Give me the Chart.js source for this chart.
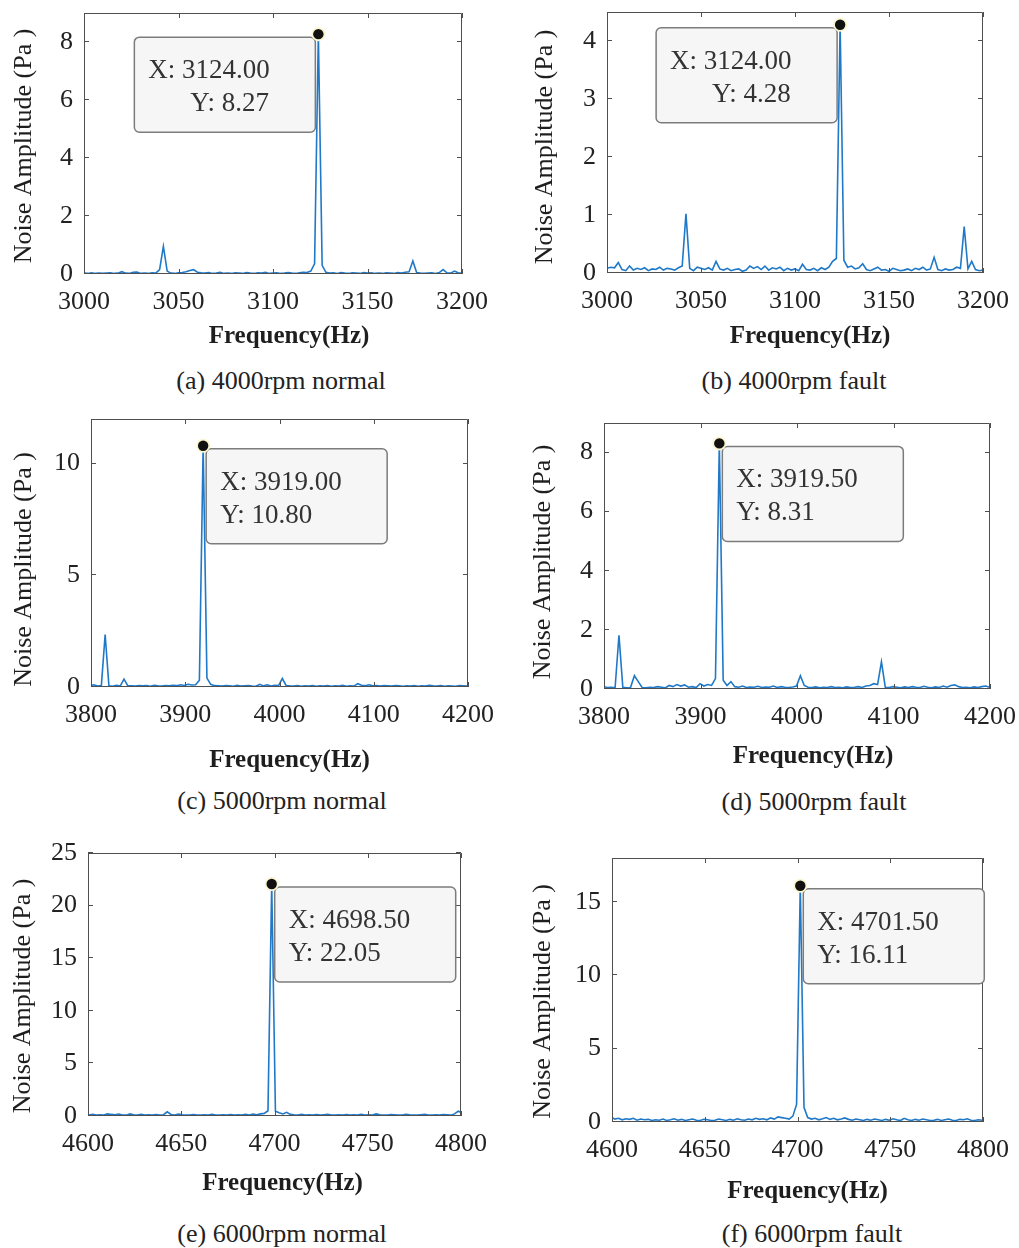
<!DOCTYPE html>
<html>
<head>
<meta charset="utf-8">
<title>Noise spectra</title>
<script src="https://cdn.jsdelivr.net/npm/chart.js@4.4.1/dist/chart.umd.min.js"></script>
<style>
  html, body { margin: 0; padding: 0; background: #ffffff; }
  body { width: 1019px; height: 1248px; position: relative; overflow: hidden;
         font-family: "Liberation Serif", "Times New Roman", serif; }
  .pane { position: absolute; display: block; }
  .cap { position: absolute; width: 400px; text-align: center; font-size: 26px;
         line-height: 26px; color: #222; white-space: nowrap; }
</style>
</head>
<body>
<script>
// ---- text ----
const captionA = '(a) 4000rpm normal';
const captionB = '(b) 4000rpm fault';
const captionC = '(c) 5000rpm normal';
const captionD = '(d) 5000rpm fault';
const captionE = '(e) 6000rpm normal';
const captionF = '(f) 6000rpm fault';
const xAxisTitle = 'Frequency(Hz)';
const yAxisTitle = 'Noise Amplitude (Pa )';

// ---- tick labels ----
const freqTicks4000 = [3000, 3050, 3100, 3150, 3200];
const freqTicks5000 = [3800, 3900, 4000, 4100, 4200];
const freqTicks6000 = [4600, 4650, 4700, 4750, 4800];
const ampTicksA = [0, 2, 4, 6, 8];
const ampTicksB = [0, 1, 2, 3, 4];
const ampTicksC = [0, 5, 10];
const ampTicksD = [0, 2, 4, 6, 8];
const ampTicksE = [0, 5, 10, 15, 20, 25];
const ampTicksF = [0, 5, 10, 15];

// ---- spectrum bins: first bin frequency and bin spacing (Hz) ----
const binStartA = 3000,   binStepA = 2;
const binStartB = 3000,   binStepB = 2;
const binStartC = 3799,   binStepC = 4;
const binStartD = 3799.5, binStepD = 4;
const binStartE = 4600.5, binStepE = 2;
const binStartF = 4599.5, binStepF = 2;

// ---- noise amplitude per bin (Pa) ----
const ampA = [
  0.03,0.02,0.04,0.02,0.03,0.02,0.03,0.04,0.02,0.03,
  0.08,0.03,0.02,0.06,0.07,0.02,0.03,0.02,0.04,0.03,
  0.15,0.95,0.10,0.03,0.02,0.04,0.05,0.08,0.12,0.15,
  0.06,0.04,0.03,0.05,0.02,0.03,0.06,0.02,0.03,0.02,
  0.04,0.03,0.02,0.05,0.03,0.02,0.04,0.03,0.06,0.02,
  0.03,0.04,0.02,0.03,0.05,0.03,0.02,0.04,0.06,0.05,
  0.10,0.35,8.27,0.30,0.06,0.03,0.04,0.02,0.05,0.03,
  0.02,0.04,0.03,0.02,0.05,0.03,0.04,0.02,0.03,0.02,
  0.04,0.03,0.02,0.05,0.03,0.06,0.08,0.45,0.05,0.03,
  0.02,0.03,0.04,0.02,0.05,0.15,0.04,0.03,0.10,0.04,
  0.03
];
const ampB = [
  0.08,0.10,0.09,0.18,0.06,0.04,0.12,0.05,0.08,0.06,
  0.09,0.04,0.07,0.06,0.10,0.05,0.08,0.07,0.05,0.09,
  0.12,1.02,0.08,0.04,0.10,0.08,0.06,0.09,0.05,0.20,
  0.07,0.05,0.08,0.04,0.06,0.07,0.03,0.05,0.12,0.08,
  0.11,0.06,0.12,0.05,0.09,0.07,0.10,0.04,0.08,0.05,
  0.07,0.04,0.15,0.06,0.05,0.08,0.04,0.09,0.06,0.10,
  0.20,0.25,4.28,0.22,0.10,0.12,0.07,0.09,0.16,0.06,
  0.04,0.07,0.10,0.05,0.06,0.03,0.08,0.06,0.04,0.05,
  0.07,0.04,0.08,0.06,0.10,0.05,0.07,0.27,0.06,0.04,
  0.07,0.05,0.06,0.10,0.08,0.80,0.07,0.20,0.06,0.04,
  0.05
];
const ampC = [
  0.05,0.10,0.04,0.06,2.35,0.05,0.03,0.08,0.04,0.35,
  0.06,0.05,0.04,0.07,0.05,0.06,0.03,0.08,0.05,0.04,
  0.06,0.05,0.08,0.06,0.10,0.07,0.12,0.09,0.10,0.30,
  10.80,0.40,0.12,0.06,0.05,0.04,0.06,0.05,0.03,0.07,
  0.04,0.05,0.06,0.04,0.03,0.12,0.05,0.10,0.04,0.08,
  0.06,0.38,0.07,0.05,0.04,0.06,0.03,0.05,0.04,0.06,
  0.03,0.05,0.04,0.06,0.03,0.05,0.04,0.07,0.03,0.05,
  0.04,0.15,0.08,0.06,0.10,0.05,0.07,0.04,0.06,0.05,
  0.04,0.06,0.05,0.03,0.05,0.04,0.06,0.03,0.05,0.04,
  0.08,0.05,0.04,0.06,0.03,0.05,0.04,0.03,0.06,0.05,
  0.04
];
const ampD = [
  0.08,0.05,0.06,0.04,1.82,0.06,0.04,0.05,0.45,0.25,
  0.05,0.04,0.06,0.05,0.08,0.06,0.04,0.12,0.08,0.15,
  0.10,0.14,0.06,0.08,0.05,0.18,0.10,0.15,0.12,0.35,
  8.31,0.30,0.12,0.25,0.08,0.06,0.10,0.05,0.07,0.06,
  0.09,0.05,0.07,0.06,0.10,0.05,0.08,0.06,0.05,0.07,
  0.10,0.45,0.12,0.06,0.05,0.07,0.04,0.06,0.05,0.08,
  0.05,0.06,0.04,0.07,0.05,0.06,0.08,0.05,0.10,0.12,
  0.18,0.15,0.92,0.06,0.05,0.08,0.06,0.04,0.07,0.05,
  0.08,0.06,0.05,0.09,0.06,0.04,0.07,0.05,0.10,0.06,
  0.12,0.14,0.08,0.05,0.06,0.04,0.07,0.05,0.08,0.10,
  0.06
];
const ampE = [
  0.10,0.15,0.08,0.12,0.10,0.20,0.15,0.12,0.18,0.10,
  0.08,0.20,0.12,0.10,0.15,0.08,0.12,0.10,0.14,0.08,
  0.12,0.40,0.15,0.10,0.18,0.12,0.08,0.10,0.14,0.10,
  0.08,0.12,0.10,0.15,0.08,0.10,0.12,0.08,0.14,0.10,
  0.12,0.08,0.15,0.10,0.18,0.12,0.20,0.25,0.50,22.05,
  0.45,0.30,0.20,0.35,0.15,0.12,0.10,0.15,0.08,0.12,
  0.10,0.14,0.08,0.12,0.15,0.10,0.08,0.12,0.10,0.14,
  0.08,0.12,0.10,0.15,0.08,0.12,0.10,0.20,0.12,0.08,
  0.10,0.14,0.12,0.08,0.10,0.15,0.12,0.10,0.08,0.12,
  0.15,0.10,0.08,0.12,0.10,0.14,0.12,0.08,0.20,0.45,
  0.30
];
const ampF = [
  0.35,0.20,0.25,0.15,0.22,0.18,0.25,0.12,0.20,0.15,
  0.18,0.10,0.15,0.12,0.20,0.10,0.15,0.22,0.12,0.18,
  0.10,0.15,0.20,0.12,0.10,0.18,0.15,0.10,0.12,0.20,
  0.15,0.10,0.18,0.12,0.22,0.15,0.12,0.20,0.15,0.25,
  0.18,0.22,0.15,0.28,0.20,0.35,0.30,0.25,0.20,0.40,
  1.20,16.11,1.00,0.30,0.20,0.25,0.15,0.22,0.30,0.18,
  0.25,0.15,0.20,0.28,0.18,0.12,0.20,0.15,0.10,0.18,
  0.12,0.20,0.15,0.10,0.18,0.12,0.22,0.15,0.10,0.25,
  0.15,0.10,0.18,0.12,0.20,0.15,0.10,0.12,0.18,0.10,
  0.15,0.20,0.12,0.10,0.18,0.15,0.22,0.12,0.10,0.15,
  0.12
];

// ---- layout of the six panels (page pixels) ----
const panels = [
  { amp: ampA, start: binStartA, step: binStepA, xMin: 3000, xMax: 3200, yMax: 9,   xTicks: freqTicks4000, yTicks: ampTicksA, caption: captionA,
    canvas: { x: 0,   y: 0,   w: 510, h: 355 }, plot: { l: 84,  r: 462, t: 13,  b: 274 },
    tipSide: 'left',  tipIndent: 42, xtDx: 16, xtDy: 69, ytDx: -60, ytDy: 2.5,  cap: { cx: 281, base: 387 } },
  { amp: ampB, start: binStartB, step: binStepB, xMin: 3000, xMax: 3200, yMax: 4.5, xTicks: freqTicks4000, yTicks: ampTicksB, caption: captionB,
    canvas: { x: 510, y: 0,   w: 509, h: 355 }, plot: { l: 607, r: 983, t: 12,  b: 273 },
    tipSide: 'left',  tipIndent: 42, xtDx: 15, xtDy: 70, ytDx: -62, ytDy: 4.5,  cap: { cx: 794, base: 387 } },
  { amp: ampC, start: binStartC, step: binStepC, xMin: 3800, xMax: 4200, yMax: 12,  xTicks: freqTicks5000, yTicks: ampTicksC, caption: captionC,
    canvas: { x: 0,   y: 405, w: 510, h: 372 }, plot: { l: 91,  r: 468, t: 419, b: 687 },
    tipSide: 'right', tipIndent: 0,  xtDx: 10, xtDy: 80, ytDx: -67, ytDy: 16.5, cap: { cx: 282, base: 807 } },
  { amp: ampD, start: binStartD, step: binStepD, xMin: 3800, xMax: 4200, yMax: 9,   xTicks: freqTicks5000, yTicks: ampTicksD, caption: captionD,
    canvas: { x: 510, y: 405, w: 509, h: 372 }, plot: { l: 604, r: 990, t: 423, b: 689 },
    tipSide: 'right', tipIndent: 0,  xtDx: 16, xtDy: 74, ytDx: -61, ytDy: 6,    cap: { cx: 814, base: 808 } },
  { amp: ampE, start: binStartE, step: binStepE, xMin: 4600, xMax: 4800, yMax: 25,  xTicks: freqTicks6000, yTicks: ampTicksE, caption: captionE,
    canvas: { x: 0,   y: 835, w: 510, h: 375 }, plot: { l: 88,  r: 461, t: 853, b: 1116 },
    tipSide: 'right', tipIndent: 0,  xtDx: 8,  xtDy: 74, ytDx: -65, ytDy: 11.5, cap: { cx: 282, base: 1240 } },
  { amp: ampF, start: binStartF, step: binStepF, xMin: 4600, xMax: 4800, yMax: 18,  xTicks: freqTicks6000, yTicks: ampTicksF, caption: captionF,
    canvas: { x: 510, y: 835, w: 509, h: 375 }, plot: { l: 612, r: 983, t: 858, b: 1122 },
    tipSide: 'right', tipIndent: 0,  xtDx: 10, xtDy: 76, ytDx: -69, ytDy: 11.5, cap: { cx: 812, base: 1240 } }
];

const SERIF = '"Liberation Serif", "Times New Roman", serif';
const LINE_BLUE = '#1f79c8';

// Boxed axes with inward ticks, axis titles and a MATLAB-style data tip on the highest bin.
const framePlugin = {
  id: 'frame',
  afterDatasetsDraw(chart, args, o) {
    const { ctx, chartArea: a, scales: { x, y } } = chart;
    ctx.save();

    // axes box
    ctx.strokeStyle = '#4f4f4f';
    ctx.lineWidth = 1;
    ctx.beginPath();
    ctx.rect(Math.round(a.left) + 0.5, Math.round(a.top) + 0.5,
             Math.round(a.right - a.left) - 1, Math.round(a.bottom - a.top) - 1);
    ctx.stroke();

    // inward tick marks on all four sides
    const L = 5;
    ctx.beginPath();
    x.ticks.forEach(t => {
      const px = Math.round(x.getPixelForValue(t.value)) + 0.5;
      ctx.moveTo(px, a.bottom); ctx.lineTo(px, a.bottom - L);
      ctx.moveTo(px, a.top);    ctx.lineTo(px, a.top + L);
    });
    y.ticks.forEach(t => {
      const py = Math.round(y.getPixelForValue(t.value)) - 0.5;
      ctx.moveTo(a.left, py);  ctx.lineTo(a.left + L, py);
      ctx.moveTo(a.right, py); ctx.lineTo(a.right - L, py);
    });
    ctx.stroke();

    // axis titles
    ctx.fillStyle = '#1e1e1e';
    ctx.font = 'bold 25px ' + SERIF;
    ctx.textAlign = 'center';
    ctx.textBaseline = 'alphabetic';
    ctx.fillText(xAxisTitle, (a.left + a.right) / 2 + o.xtDx, a.bottom + o.xtDy);

    ctx.save();
    ctx.font = '26px ' + SERIF;
    ctx.textBaseline = 'middle';
    ctx.translate(a.left + o.ytDx, (a.top + a.bottom) / 2 + o.ytDy);
    ctx.rotate(-Math.PI / 2);
    ctx.fillText(yAxisTitle, 0, 0);
    ctx.restore();

    // data tip at the spectral peak
    const pts = chart.data.datasets[0].data;
    let pk = pts[0];
    pts.forEach(p => { if (p.y > pk.y) pk = p; });
    const mx = x.getPixelForValue(pk.x);
    const my = y.getPixelForValue(pk.y);
    const bw = 181, bh = 95, r = 5;
    const bx = o.tipSide === 'left' ? mx - 184 : mx + 3;
    const by = my + 3;
    ctx.beginPath();
    ctx.moveTo(bx + r, by);
    ctx.lineTo(bx + bw - r, by);
    ctx.arcTo(bx + bw, by, bx + bw, by + r, r);
    ctx.lineTo(bx + bw, by + bh - r);
    ctx.arcTo(bx + bw, by + bh, bx + bw - r, by + bh, r);
    ctx.lineTo(bx + r, by + bh);
    ctx.arcTo(bx, by + bh, bx, by + bh - r, r);
    ctx.lineTo(bx, by + r);
    ctx.arcTo(bx, by, bx + r, by, r);
    ctx.closePath();
    ctx.fillStyle = '#f6f6f6';
    ctx.fill();
    ctx.strokeStyle = '#7c7c7c';
    ctx.lineWidth = 1.5;
    ctx.stroke();

    ctx.fillStyle = '#333333';
    ctx.font = '27px ' + SERIF;
    ctx.textAlign = 'left';
    ctx.textBaseline = 'alphabetic';
    ctx.fillText('X: ' + pk.x.toFixed(2), bx + 14, by + 41);
    ctx.fillText('Y: ' + pk.y.toFixed(2), bx + 14 + o.tipIndent, by + 74);

    // marker
    ctx.beginPath();
    ctx.arc(mx, my, 7, 0, Math.PI * 2);
    ctx.fillStyle = '#fbf6cf';
    ctx.fill();
    ctx.beginPath();
    ctx.arc(mx, my, 5.2, 0, Math.PI * 2);
    ctx.fillStyle = '#111111';
    ctx.fill();

    ctx.restore();
  }
};

panels.forEach(p => {
  const c = document.createElement('canvas');
  c.className = 'pane';
  c.width = p.canvas.w;
  c.height = p.canvas.h;
  c.style.left = p.canvas.x + 'px';
  c.style.top = p.canvas.y + 'px';
  c.style.width = p.canvas.w + 'px';
  c.style.height = p.canvas.h + 'px';
  document.body.appendChild(c);

  const cap = document.createElement('div');
  cap.className = 'cap';
  cap.textContent = p.caption;
  cap.style.left = (p.cap.cx - 200) + 'px';
  cap.style.top = (p.cap.base - 19) + 'px';
  document.body.appendChild(cap);

  const points = p.amp.map((v, i) => ({ x: p.start + i * p.step, y: v }));
  const yAxisWidth = p.plot.l - p.canvas.x;
  const xAxisHeight = p.canvas.y + p.canvas.h - p.plot.b;

  new Chart(c, {
    type: 'line',
    data: {
      datasets: [{
        data: points,
        borderColor: LINE_BLUE,
        borderWidth: 1.6,
        pointRadius: 0,
        tension: 0,
        fill: false
      }]
    },
    options: {
      responsive: false,
      animation: false,
      devicePixelRatio: 1,
      events: [],
      layout: {
        autoPadding: false,
        padding: {
          left: 0,
          top: p.plot.t - p.canvas.y,
          right: p.canvas.x + p.canvas.w - p.plot.r,
          bottom: 0
        }
      },
      plugins: {
        legend: { display: false },
        tooltip: { enabled: false },
        frame: { tipSide: p.tipSide, tipIndent: p.tipIndent, xtDx: p.xtDx, xtDy: p.xtDy, ytDx: p.ytDx, ytDy: p.ytDy }
      },
      scales: {
        x: {
          type: 'linear',
          min: p.xMin,
          max: p.xMax,
          grid: { display: false, drawTicks: false },
          border: { display: false },
          afterBuildTicks: s => { s.ticks = p.xTicks.map(v => ({ value: v })); },
          afterFit: s => { s.height = xAxisHeight; s.paddingLeft = 0; s.paddingRight = 0; },
          ticks: {
            autoSkip: false, maxRotation: 0, minRotation: 0, padding: 13,
            color: '#222222',
            font: { family: SERIF, size: 26 },
            callback: v => String(v)
          }
        },
        y: {
          type: 'linear',
          min: 0,
          max: p.yMax,
          grid: { display: false, drawTicks: false },
          border: { display: false },
          afterBuildTicks: s => { s.ticks = p.yTicks.map(v => ({ value: v })); },
          afterFit: s => { s.width = yAxisWidth; s.paddingTop = 0; s.paddingBottom = 0; },
          ticks: {
            padding: 11,
            color: '#222222',
            font: { family: SERIF, size: 26 },
            callback: v => String(v)
          }
        }
      }
    },
    plugins: [framePlugin]
  });
});
</script>
</body>
</html>
